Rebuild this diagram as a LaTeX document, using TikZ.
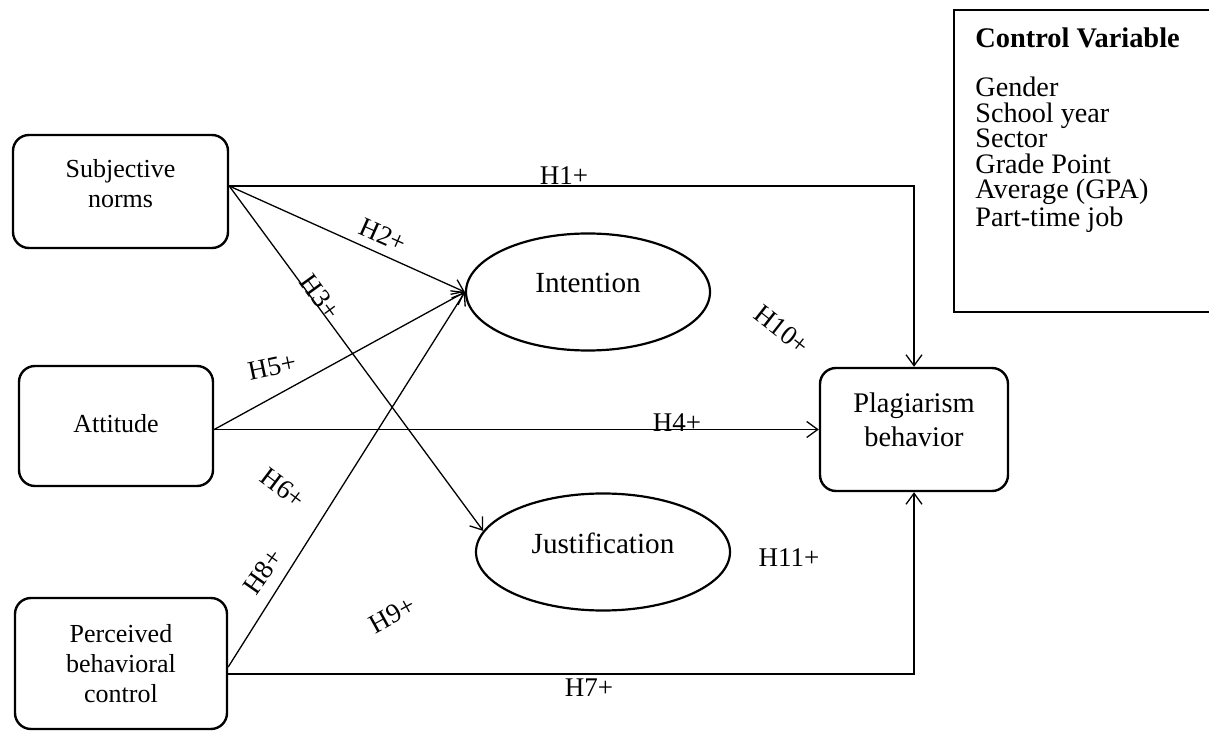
\documentclass[tikz,border=0pt]{standalone}
\usepackage{fontspec}
\setmainfont{Liberation Serif}
\usetikzlibrary{arrows.meta,shapes.geometric}
\begin{document}
\begin{tikzpicture}[x=0.5pt,y=-0.5pt,
  cbox/.style={draw,line width=1.2pt,rounded corners=8pt,align=center,inner sep=0pt},
  cell/.style={draw,ellipse,line width=1.1pt,inner sep=0pt,font=\fontsize{14.6}{17}\selectfont,text depth=9pt},
  hyp/.style={inner sep=0pt,font=\fontsize{13.5}{16}\selectfont},
  arr/.style={line width=0.65pt,-{Straight Barb[length=5.5pt,width=8pt]}},
  link/.style={line width=0.65pt}]
       \useasboundingbox (0,0) rectangle (1209,731);
       \node[cbox,minimum width=107.5pt,minimum height=56.5pt,font=\fontsize{13}{15}\selectfont,text depth=8.5pt] (sn) at (120.5,191.5) {Subjective\\norms};
       \node[cbox,minimum width=97pt,minimum height=60pt,font=\fontsize{13}{15}\selectfont,text depth=3pt] (att) at (116,426) {Attitude};
       \node[cbox,minimum width=106pt,minimum height=65.5pt,font=\fontsize{13}{15}\selectfont] (pbc) at (121,663.5) {Perceived\\behavioral\\control};
       \node[cbox,minimum width=94pt,minimum height=61.5pt,font=\fontsize{14.2}{17}\selectfont,text depth=9.5pt] (plag) at (914,429.5) {Plagiarism\\behavior};
       \node[cell,minimum width=122pt,minimum height=58.5pt] (int) at (588,292) {Intention};
       \node[cell,minimum width=127pt,minimum height=58.5pt] (jus) at (603,552) {Justification};
       \draw[line width=1.2pt] (1209,10) -- (954,10) -- (954,312) -- (1209,312);
       \node[anchor=north west,inner sep=0pt,font=\fontsize{14.2}{17}\selectfont\bfseries] (ctrl) at (975,27) {Control Variable};
       \node[anchor=north west,inner sep=0pt,align=left,font=\fontsize{14.1}{12.7}\selectfont] (ctrllist) at (975,77) {Gender\\School year\\Sector\\Grade Point\\Average (GPA)\\Part-time job};
       \draw[arr] ([yshift=2.75pt]sn.east) -| (plag.north);
       \draw[arr] ([yshift=2.75pt]sn.east) -- (int.west);
       \draw[arr] ([yshift=2.75pt]sn.east) -- (jus.170);
       \draw[arr] (plag.west -| att.east) -- (plag.west);
       \draw[arr] (plag.west -| att.east) -- (int.west);
       \draw[arr] ([yshift=-1.75pt]pbc.east) -- (int.west);
       \draw[arr] ([yshift=-5.25pt]pbc.east) -| (plag.south);
       \node[hyp] (h1) at (564,176) {H1+};
       \node[hyp,rotate=-24] (h2) at (383,235) {H2+};
       \node[hyp,rotate=-54] (h3) at (320,297) {H3+};
       \node[hyp] (h4) at (677,423) {H4+};
       \node[hyp,rotate=12] (h5) at (272,367) {H5+};
       \node[hyp,rotate=-37] (h6) at (283,488) {H6+};
       \node[hyp] (h7) at (589,688) {H7+};
       \node[hyp,rotate=55] (h8) at (263,572) {H8+};
       \node[hyp,rotate=29] (h9) at (392,615) {H9+};
       \node[hyp,rotate=-38] (h10) at (782,330) {H10+};
       \node[hyp] (h11) at (789,558) {H11+};
\end{tikzpicture}
\end{document}
